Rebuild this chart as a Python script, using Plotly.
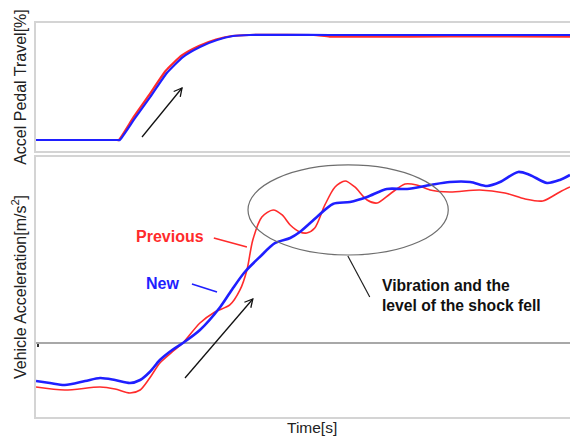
import math
import plotly.graph_objects as go
from plotly.subplots import make_subplots

# ---- Accelerator pedal travel [%] ----
pedal_t_new = [0.0, 1.54, 1.57, 1.85, 2.14, 2.45, 2.75, 3.07, 3.39, 3.69, 4.01, 5.5, 10.0]
pedal_new = [0.0, 0.0, 0.0, 20.5, 41.0, 63.8, 79.0, 88.6, 95.2, 99.0, 100.0, 100.0, 100.0]

pedal_t_prev = [0.0, 1.52, 1.55, 1.83, 2.12, 2.43, 2.73, 3.05, 3.37, 3.67, 3.99, 5.2, 5.5, 7.0, 8.5, 10.0]
pedal_prev = [0.0, 0.0, 0.0, 22.0, 43.0, 66.0, 80.5, 89.5, 95.7, 99.0, 100.0, 100.0, 98.5, 98.5, 98.6, 98.4]

# ---- Vehicle acceleration [m/s^2] ----
acc_t_new = [0.0, 0.26, 0.54, 0.92, 1.20, 1.48, 1.76, 1.95, 2.13, 2.32, 2.55, 2.75, 3.07, 3.45,
             3.69, 3.91, 4.19, 4.48, 4.76, 4.94, 5.26, 5.56, 5.88, 6.20, 6.57, 6.95, 7.38, 7.75,
             8.13, 8.45, 8.69, 9.03, 9.25, 9.57, 9.81, 10.0]
acc_new = [-0.95, -1.0, -1.05, -0.95, -0.875, -0.925, -1.0, -0.925, -0.725, -0.425, -0.175, 0.0,
           0.325, 0.9, 1.375, 1.775, 2.15, 2.5, 2.625, 2.775, 3.15, 3.475, 3.525, 3.65, 3.85, 3.85,
           3.95, 4.025, 4.025, 3.925, 4.025, 4.275, 4.2, 4.0, 4.075, 4.2]

acc_t_prev = [0.0, 0.54, 1.20, 1.48, 1.76, 1.95, 2.13, 2.32, 2.55, 2.75, 3.07, 3.35, 3.63, 3.82,
              3.95, 4.06, 4.23, 4.44, 4.61, 4.76, 4.94, 5.07, 5.22, 5.41, 5.60, 5.79, 5.97, 6.20,
              6.39, 6.63, 6.91, 7.13, 7.38, 7.75, 8.31, 8.78, 9.16, 9.49, 9.81, 10.0]
acc_prev = [-1.1, -1.175, -1.1, -1.15, -1.25, -1.175, -0.875, -0.5, -0.225, 0.0, 0.5, 0.775, 0.95,
            1.325, 1.825, 2.575, 3.15, 3.325, 3.2, 2.95, 2.775, 2.75, 2.875, 3.45, 3.9, 4.05, 3.9,
            3.575, 3.5, 3.725, 3.975, 3.95, 3.825, 3.775, 3.825, 3.75, 3.6, 3.55, 3.775, 3.9]

RED = "#ff2b2b"
BLUE = "#1f1fff"
INK = "#111111"
FONT = "Arial, Liberation Sans, sans-serif"

# figure geometry
W, H = 570, 439
M_L, M_R, M_T, M_B = 36, 0, 23, 22
X_RANGE = [0, 10]
Y1_DOMAIN, Y1_RANGE = [0.675, 1.0], [-10.5, 111.4]
Y2_DOMAIN, Y2_RANGE = [0.0, 0.66], [-1.85, 4.65]

plot_w = W - M_L - M_R
plot_h = H - M_T - M_B
px_per_x = plot_w / (X_RANGE[1] - X_RANGE[0])
px_per_y1 = plot_h * (Y1_DOMAIN[1] - Y1_DOMAIN[0]) / (Y1_RANGE[1] - Y1_RANGE[0])
px_per_y2 = plot_h * (Y2_DOMAIN[1] - Y2_DOMAIN[0]) / (Y2_RANGE[1] - Y2_RANGE[0])

fig = make_subplots(rows=2, cols=1, shared_xaxes=False, vertical_spacing=0.015,
                    row_heights=[0.33, 0.67])

# pedal traces
fig.add_trace(go.Scatter(x=pedal_t_prev, y=pedal_prev, mode="lines",
                         line=dict(color=RED, width=2.2, shape="spline", smoothing=0.5),
                         showlegend=False), row=1, col=1)
fig.add_trace(go.Scatter(x=pedal_t_new, y=pedal_new, mode="lines",
                         line=dict(color=BLUE, width=2.2, shape="spline", smoothing=0.5),
                         showlegend=False), row=1, col=1)

# acceleration traces
fig.add_trace(go.Scatter(x=acc_t_prev, y=acc_prev, mode="lines",
                         line=dict(color=RED, width=1.6, shape="spline", smoothing=0.8),
                         showlegend=False), row=2, col=1)
fig.add_trace(go.Scatter(x=acc_t_new, y=acc_new, mode="lines",
                         line=dict(color=BLUE, width=2.6, shape="spline", smoothing=0.8),
                         showlegend=False), row=2, col=1)

FRAME = "#d4d4d4"
TITLE_FONT = dict(size=16, color="#222222", family=FONT)
axis_common = dict(showticklabels=False, ticks="", showgrid=False, zeroline=False)

fig.update_xaxes(range=X_RANGE, showline=True, linecolor=FRAME, linewidth=1.5, mirror=True,
                 **axis_common)
fig.update_yaxes(showline=True, linecolor=FRAME, linewidth=1.5, mirror=False, **axis_common)

fig.update_layout(
    width=W, height=H,
    margin=dict(l=M_L, r=M_R, t=M_T, b=M_B),
    paper_bgcolor="white", plot_bgcolor="white",
    font=dict(family=FONT, color="#222222"),
    xaxis=dict(domain=[0, 1]),
    xaxis2=dict(domain=[0, 1]),
    yaxis=dict(domain=Y1_DOMAIN, range=Y1_RANGE,
               title=dict(text="Accel Pedal Travel[%]", font=TITLE_FONT, standoff=4)),
    yaxis2=dict(domain=Y2_DOMAIN, range=Y2_RANGE, zeroline=True,
                zerolinecolor="#a8a8a8", zerolinewidth=1.5,
                title=dict(text="Vehicle Acceleration[m/s<sup>2</sup>]", font=TITLE_FONT,
                           standoff=4)),
)


def arrow_shapes(x0, y0, x1, y1, xref, yref, py_per_unit, head=9, spread=28):
    """Shaft from (x0, y0) to (x1, y1) plus an open V head drawn in pixels at the tip."""
    dx = (x1 - x0) * px_per_x
    dy = (y1 - y0) * py_per_unit
    ang = math.atan2(dy, dx)
    pts = []
    for s in (+1, -1):
        a = ang + math.pi - s * math.radians(spread)
        pts.append((head * math.cos(a), head * math.sin(a)))
    path = f"M{pts[0][0]:.2f},{pts[0][1]:.2f} L0,0 L{pts[1][0]:.2f},{pts[1][1]:.2f}"
    line = dict(color=INK, width=1.3)
    return [
        dict(type="line", xref=xref, yref=yref, x0=x0, y0=y0, x1=x1, y1=y1, line=line),
        dict(type="path", xref=xref, yref=yref, xsizemode="pixel", ysizemode="pixel",
             xanchor=x1, yanchor=y1, path=path, line=line),
    ]


shapes = [
    # highlight ring around the oscillation region
    dict(type="circle", xref="x2", yref="y2", x0=3.97, x1=7.72, y0=2.2, y1=4.45,
         line=dict(color="#6e6e6e", width=1.2)),
    # leader from the ring to the note
    dict(type="line", xref="x2", yref="y2", x0=5.84, y0=2.175, x1=6.25, y1=1.15,
         line=dict(color="#222222", width=1.2)),
    # series label leaders
    dict(type="line", xref="x2", yref="y2", x0=3.33, y0=2.625, x1=3.95, y1=2.4,
         line=dict(color=RED, width=1.6)),
    dict(type="line", xref="x2", yref="y2", x0=2.92, y0=1.475, x1=3.39, y1=1.275,
         line=dict(color=BLUE, width=1.6)),
    # small origin tick mark at the zero line
    dict(type="rect", xref="x2", yref="y2", xsizemode="pixel", ysizemode="pixel",
         xanchor=0, yanchor=0, x0=1, x1=3, y0=-1, y1=-4,
         line=dict(width=0), fillcolor="#333333"),
]
# trend arrows
shapes += arrow_shapes(1.985, 2.86, 2.734, 49.5, "x", "y", px_per_y1)
shapes += arrow_shapes(2.79, -0.875, 4.06, 1.1, "x2", "y2", px_per_y2)
fig.update_layout(shapes=shapes)

annotations = [
    # series labels
    dict(x=2.51, y=2.65, xref="x2", yref="y2", text="<b>Previous</b>", showarrow=False,
         xanchor="center", yanchor="middle", font=dict(size=16, color=RED, family=FONT)),
    dict(x=2.36, y=1.475, xref="x2", yref="y2", text="<b>New</b>", showarrow=False,
         xanchor="center", yanchor="middle", font=dict(size=16, color=BLUE, family=FONT)),
    dict(x=6.44, y=1.175, xref="x2", yref="y2", xanchor="left", yanchor="middle", align="left",
         text="<b>Vibration and the<br>level of the shock fell</b>", showarrow=False,
         font=dict(size=15.7, color=INK, family=FONT)),
    # time axis title, slightly right of the panel centre
    dict(x=0.517, y=-0.026, xref="paper", yref="paper", text="Time[s]", showarrow=False,
         xanchor="center", yanchor="middle", font=dict(size=15.5, color="#222222", family=FONT)),
]
fig.update_layout(annotations=annotations)

fig.write_html("out.html")
